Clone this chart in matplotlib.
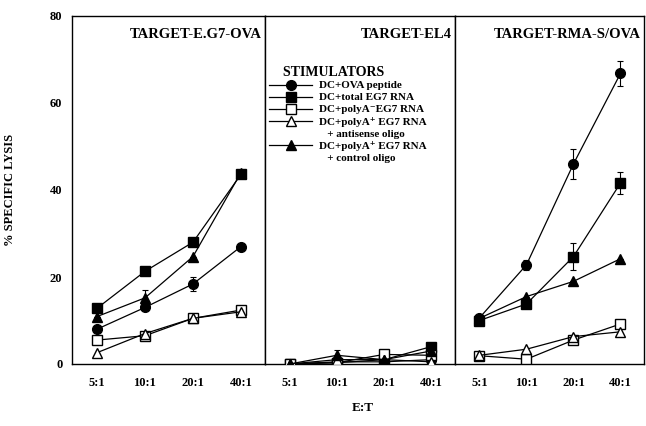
import matplotlib
matplotlib.use("Agg")
import matplotlib.pyplot as plt
from matplotlib.lines import Line2D

plt.rcParams["font.family"] = ["Liberation Serif", "DejaVu Serif"]
plt.rcParams["font.weight"] = "bold"

ratios = ["5:1", "10:1", "20:1", "40:1"]
titles = ["TARGET-E.G7-OVA", "TARGET-EL4", "TARGET-RMA-S/OVA"]

# % specific lysis, one list per panel
ova_peptide = [[8, 13, 18.4, 27], [0, 0.5, 0.5, 1], [10.6, 22.8, 46, 66.8]]
total_rna = [[12.8, 21.3, 28, 43.6], [0, 0.3, 1, 4], [10, 13.8, 24.7, 41.6]]
polyA_minus = [[5.5, 6.5, 10.5, 12.4], [0, 0.3, 2.2, 2], [1.9, 1.1, 5.5, 9.2]]
antisense = [[2.6, 7, 10.5, 12], [0, 1, 1, 0.5], [2, 3.4, 6.3, 7.4]]
control = [[10.9, 15.2, 24.7, 44], [0, 2, 1, 3], [10.5, 15.5, 19, 24.2]]

# error bars (only the visible ones)
ova_err = [[0, 0.5, 1.6, 0], [0, 0, 0, 0], [0, 1.2, 3.4, 2.8]]
total_err = [[0, 0, 0, 0], [0, 0, 0, 0], [0, 0, 3.2, 2.6]]
control_err = [[0, 1.8, 0, 0], [0, 1.2, 0, 0], [0, 0, 0, 0]]

series = [
    (ova_peptide, ova_err, "o", "black", "DC+OVA peptide"),
    (total_rna, total_err, "s", "black", "DC+total EG7 RNA"),
    (polyA_minus, None, "s", "white", "DC+polyA\u207bEG7 RNA"),
    (antisense, None, "^", "white", "DC+polyA\u207a EG7 RNA"),
    (control, control_err, "^", "black", "DC+polyA\u207a EG7 RNA"),
]

fig = plt.figure(figsize=(6.46, 4.26), dpi=100)
lefts = [72, 265, 455]
rights = [265, 455, 644]
axes = []
for i in range(3):
    ax = fig.add_axes([lefts[i] / 646, 1 - 364 / 426,
                       (rights[i] - lefts[i]) / 646, (364 - 16) / 426])
    axes.append(ax)

x = list(range(len(ratios)))
handles = []
for i, ax in enumerate(axes):
    for vals, errs, mk, fc, lab in series:
        ln, = ax.plot(x, vals[i], color="black", lw=0.9, marker=mk, ms=7,
                      mfc=fc, mec="black", mew=1.0, zorder=3)
        if i == 1:
            handles.append(ln)
        if errs is not None:
            ax.errorbar(x, vals[i], yerr=errs[i], fmt="none", ecolor="black",
                        elinewidth=0.8, capsize=2.5, capthick=0.8, zorder=2)
    ax.set_xlim(-0.52, 3.5)
    ax.set_ylim(0, 80)
    ax.set_xticks(x)
    ax.set_xticklabels(ratios, fontsize=9, fontweight="bold")
    ax.set_yticks([0, 20, 40, 60, 80])
    ax.tick_params(length=0, pad=9)
    ax.tick_params(axis="y", pad=7)
    for sp in ax.spines.values():
        sp.set_linewidth(1.0)
    ax.text(0.985, 0.965, titles[i], transform=ax.transAxes, ha="right",
            va="top", fontsize=10.5, fontweight="bold")
    if i == 0:
        ax.set_yticklabels(["0", "20", "40", "60", "80"], fontsize=9,
                           fontweight="bold")
        ax.set_ylabel("% SPECIFIC LYSIS", fontsize=9, fontweight="bold",
                      labelpad=24)
    else:
        ax.set_yticklabels([])

# legend built from the plotted lines in the middle panel
blank = Line2D([], [], linestyle="none")
leg_handles = [handles[0], handles[1], handles[2], handles[3], blank,
               handles[4], blank]
leg_labels = [series[0][4], series[1][4], series[2][4], series[3][4],
              "   + antisense oligo", series[4][4], "   + control oligo"]
leg = axes[1].legend(leg_handles, leg_labels, title="    STIMULATORS",
                     loc="upper left", bbox_to_anchor=(-0.02, 0.878),
                     frameon=False, fontsize=8, handlelength=3.9,
                     handletextpad=0.6, labelspacing=0.2, borderpad=0.2,
                     alignment="left")
leg.get_title().set_fontsize(10)
leg.get_title().set_fontweight("bold")
leg._legend_box.sep = 1
for t in leg.get_texts():
    t.set_fontweight("bold")

fig.text(363 / 646, 1 - 408 / 426, "E:T", ha="center", va="center",
         fontsize=9.5, fontweight="bold")

fig.savefig("out.png", dpi=100)
